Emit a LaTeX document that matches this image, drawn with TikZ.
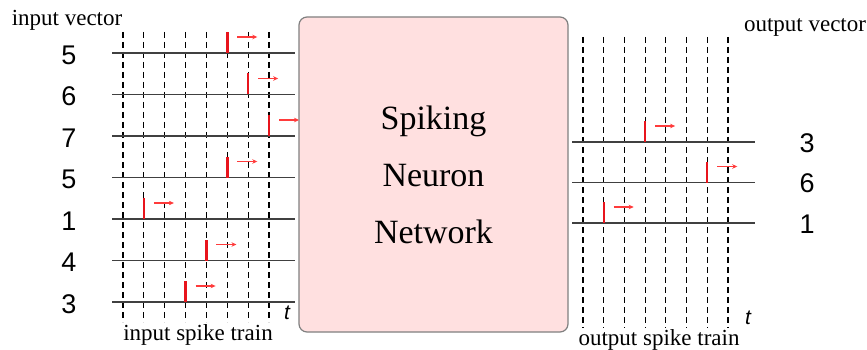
\documentclass[tikz,border=0pt]{standalone}
\usepackage{fontspec}
\setmainfont{Liberation Serif}
\setsansfont{Liberation Sans}
\usetikzlibrary{arrows.meta, positioning}

\definecolor{netfill}{HTML}{FFE0E0}
\definecolor{spikered}{HTML}{E8141C}
\definecolor{arrred}{HTML}{FF3B3B}

\begin{document}
\begin{tikzpicture}[
  x=1pt, y=-1pt,
  >={Stealth[length=5pt, width=4.5pt]},
  tick/.style={draw=black, line width=1.2pt, dash pattern=on 6pt off 4pt},
  axis/.style={draw=black!75, line width=1.5pt},
  spike/.style={draw=spikered, line width=2.4pt},
  move/.style={->, draw=arrred, line width=1.1pt},
  numlab/.style={font=\fontsize{27}{27}\selectfont\sffamily, inner sep=0pt},
  caption/.style={font=\fontsize{23}{23}\selectfont, inner sep=0pt},
  tlab/.style={font=\fontsize{21}{21}\selectfont\sffamily\itshape, inner sep=0pt},
  net/.style={draw=black!50, line width=1.2pt, fill=netfill,
              rounded corners=8pt, minimum width=269pt, minimum height=315pt,
              align=center, font=\fontsize{34}{57}\selectfont}
]
\useasboundingbox (0,0) rectangle (867,350);

%--- Network box ---
\node[net] (snn) at (433.5,174.5) {Spiking\\Neuron\\Network};

%--- Input side ---
\foreach \k in {0,...,7}
  \draw[tick] (123+20.86*\k,32) -- (123+20.86*\k,322);
\foreach \v [count=\i from 0] in {5,6,7,5,1,4,3} {
  \pgfmathsetmacro\ly{53+41.5*\i}
  \pgfmathsetmacro\sx{123+20.86*\v}
  \draw[axis] (112,\ly) -- (295,\ly);
  \node[numlab] (in\i) at (69,\ly+2) {\v};
  \draw[spike] (\sx,\ly) -- (\sx,\ly-21);
  \draw[move] (\sx+10,\ly-16) -- (\sx+30,\ly-16);
}
\node[caption] (invec) at (67,20) {input vector};
\node[caption] (intrain) at (198,335) {input spike train};
\node[tlab] (tin) at (287,313) {t};

%--- Output side ---
\foreach \k in {0,...,7}
  \draw[tick] (583+20.71*\k,37) -- (583+20.71*\k,328);
\foreach \v [count=\i from 0] in {3,6,1} {
  \pgfmathsetmacro\ly{142+40.5*\i}
  \pgfmathsetmacro\sx{583+20.71*\v}
  \draw[axis] (572,\ly) -- (755,\ly);
  \node[numlab] (out\i) at (807,\ly+1) {\v};
  \draw[spike] (\sx,\ly) -- (\sx,\ly-21);
  \draw[move] (\sx+10,\ly-16) -- (\sx+30,\ly-16);
}
\node[caption] (outvec) at (805,27) {output vector};
\node[caption] (outtrain) at (659,340) {output spike train};
\node[tlab] (tout) at (748,318) {t};

\end{tikzpicture}
\end{document}
